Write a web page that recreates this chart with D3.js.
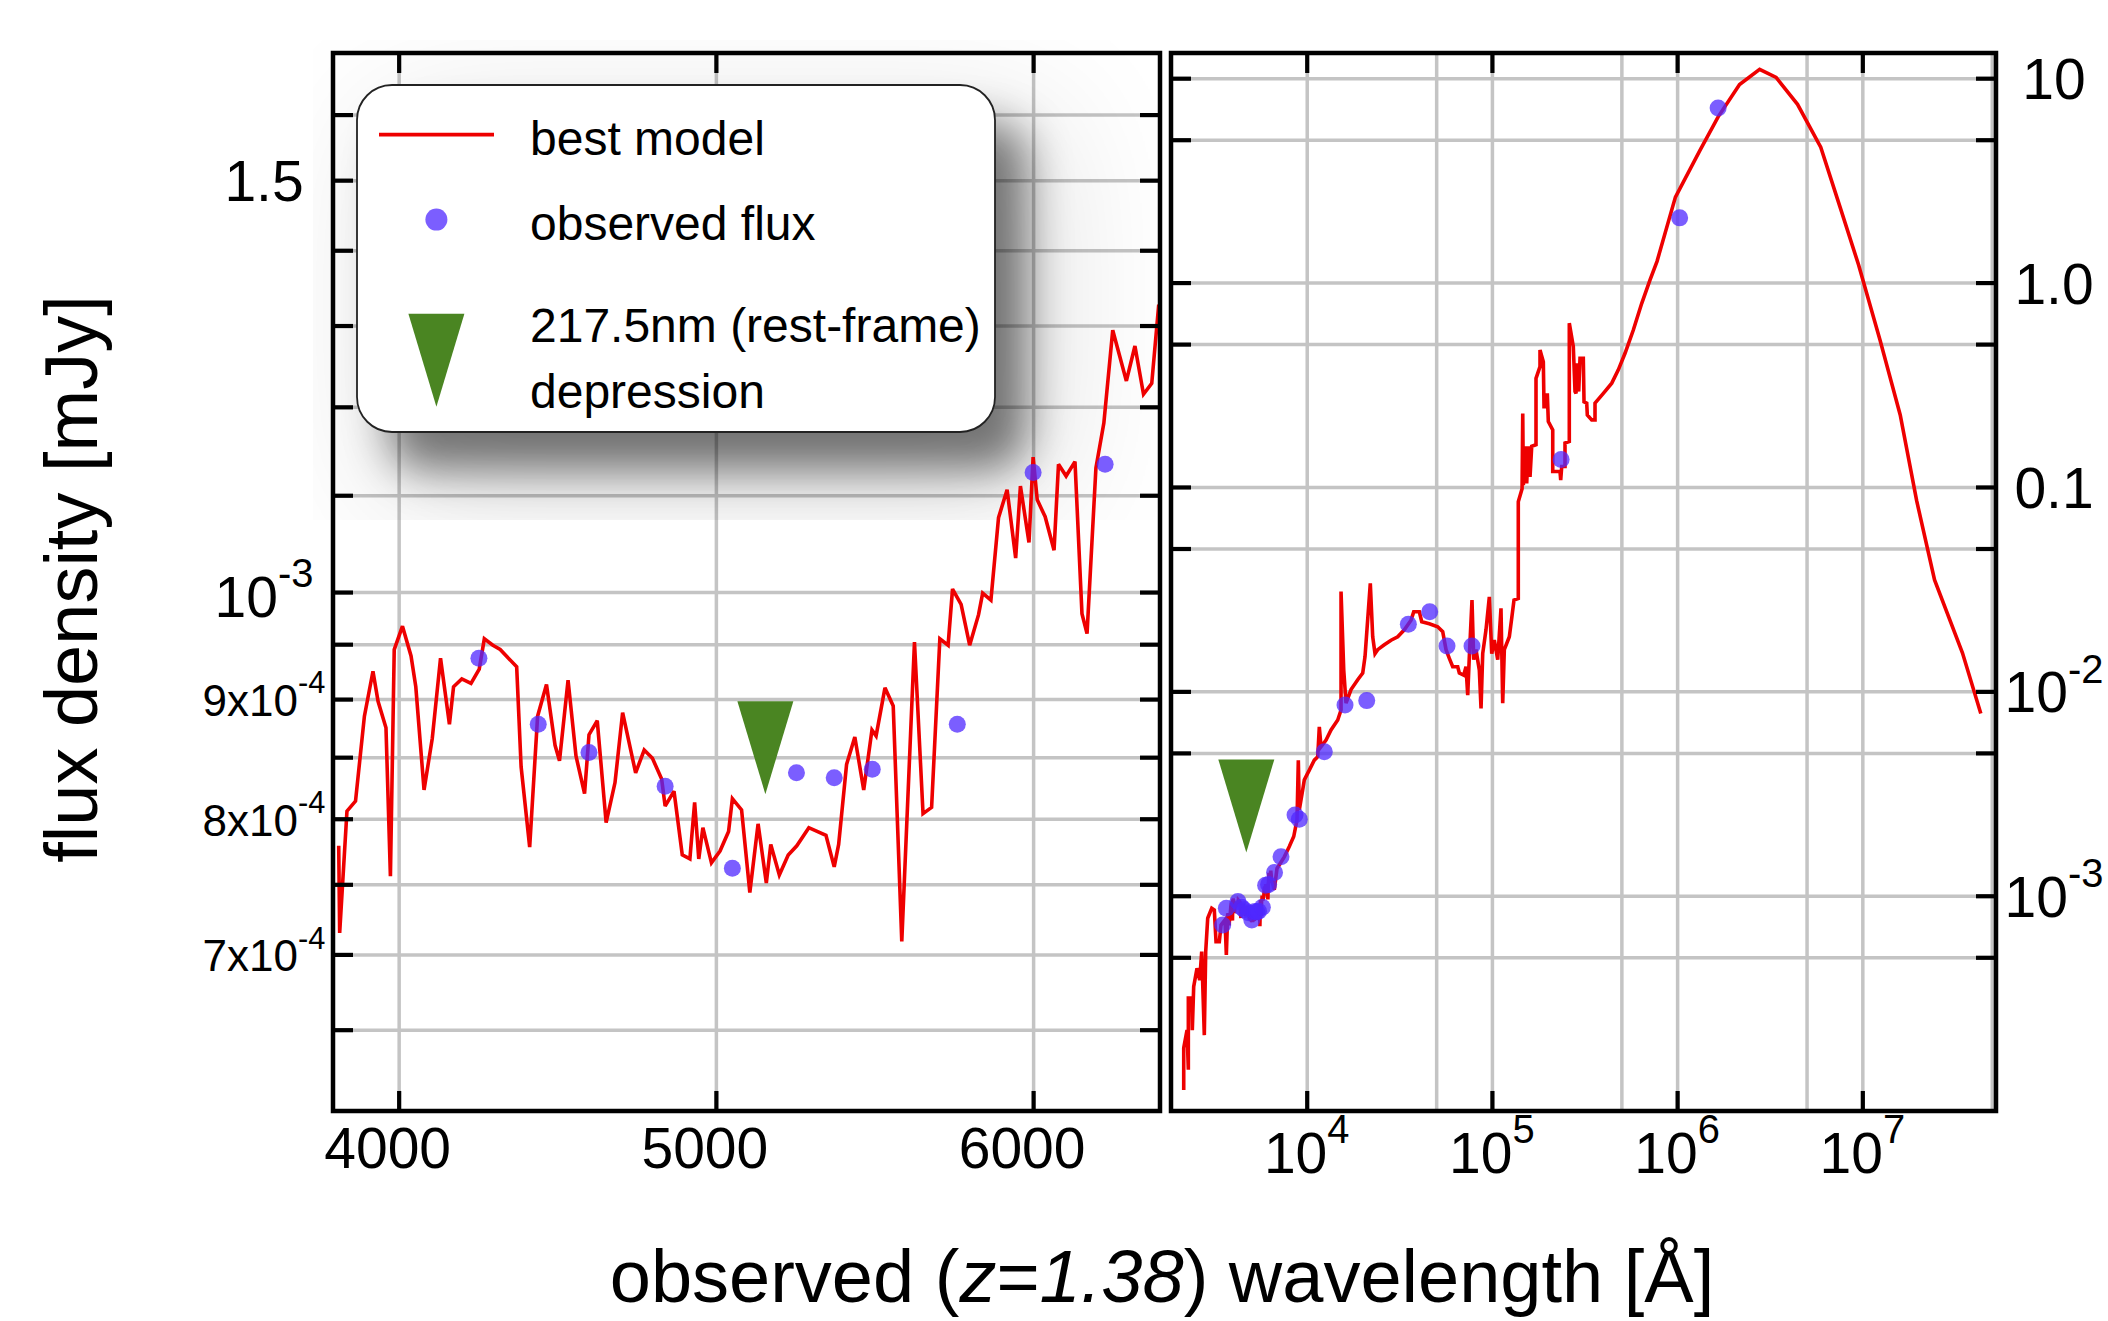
<!DOCTYPE html>
<html>
<head>
<meta charset="utf-8">
<script src="https://cdn.jsdelivr.net/npm/d3@7"></script>
<style>
  body { margin: 0; background: #fff; }
  text { font-family: "Liberation Sans", Arial, sans-serif; fill: #000; }
</style>
</head>
<body>
<svg id="chart" width="2108" height="1321"></svg>
<script>
// --- best model, [wavelength in Angstrom, flux in mJy] ---
const modelUV = [
  [2167, 1.12e-4], [2167, 1.80e-4], [2258, 2.20e-4], [2295, 1.41e-4], [2295, 3.16e-4],
  [2393, 3.16e-4], [2411, 2.20e-4], [2453, 3.59e-4], [2556, 4.42e-4], [2643, 3.87e-4],
  [2710, 5.33e-4], [2799, 2.08e-4], [2848, 5.33e-4], [2920, 7.76e-4], [3069, 8.69e-4],
  [3170, 8.51e-4], [3238, 5.96e-4], [3373, 5.96e-4], [3446, 7.19e-4], [3622, 7.62e-4],
  [3681, 5.13e-4], [3745, 8.20e-4]
];
const modelOptical = [
  [3811, 7.79e-4], [3814, 7.15e-4], [3837, 8.06e-4], [3864, 8.14e-4], [3892, 8.85e-4],
  [3919, 9.25e-4], [3935, 8.98e-4], [3960, 8.75e-4], [3974, 7.56e-4], [3986, 9.45e-4],
  [4012, 9.67e-4], [4039, 9.39e-4], [4054, 9.11e-4], [4080, 8.23e-4], [4106, 8.66e-4],
  [4132, 9.37e-4], [4160, 8.78e-4], [4173, 9.11e-4], [4199, 9.18e-4], [4228, 9.14e-4],
  [4254, 9.27e-4], [4270, 9.55e-4], [4297, 9.49e-4], [4320, 9.45e-4], [4372, 9.29e-4],
  [4386, 8.42e-4], [4413, 7.78e-4], [4438, 8.85e-4], [4466, 9.13e-4], [4493, 8.60e-4],
  [4507, 8.47e-4], [4534, 9.17e-4], [4559, 8.51e-4], [4586, 8.20e-4], [4600, 8.69e-4],
  [4626, 8.81e-4], [4654, 7.97e-4], [4682, 8.29e-4], [4706, 8.88e-4], [4747, 8.37e-4],
  [4774, 8.56e-4], [4800, 8.49e-4], [4829, 8.32e-4], [4840, 8.10e-4], [4868, 8.22e-4],
  [4894, 7.72e-4], [4918, 7.69e-4], [4933, 8.13e-4], [4946, 7.69e-4], [4959, 7.93e-4],
  [4986, 7.66e-4], [5013, 7.75e-4], [5040, 7.90e-4], [5052, 8.16e-4], [5081, 8.07e-4],
  [5107, 7.44e-4], [5133, 7.96e-4], [5159, 7.51e-4], [5173, 7.80e-4], [5200, 7.57e-4],
  [5228, 7.72e-4], [5255, 7.79e-4], [5293, 7.93e-4], [5347, 7.87e-4], [5373, 7.63e-4],
  [5387, 7.80e-4], [5412, 8.44e-4], [5438, 8.67e-4], [5466, 8.23e-4], [5492, 8.73e-4],
  [5505, 8.68e-4], [5533, 9.10e-4], [5559, 8.94e-4], [5586, 7.09e-4], [5626, 9.52e-4],
  [5653, 8.04e-4], [5680, 8.09e-4], [5706, 9.55e-4], [5732, 9.49e-4], [5746, 1.003e-3],
  [5773, 9.88e-4], [5800, 9.49e-4], [5828, 9.78e-4], [5841, 9.99e-4], [5867, 9.92e-4],
  [5891, 1.076e-3], [5918, 1.106e-3], [5945, 1.034e-3], [5960, 1.110e-3], [5987, 1.050e-3],
  [6000, 1.142e-3], [6013, 1.095e-3], [6038, 1.077e-3], [6066, 1.042e-3], [6080, 1.134e-3],
  [6104, 1.121e-3], [6132, 1.137e-3], [6154, 9.79e-4], [6170, 9.60e-4], [6198, 1.130e-3],
  [6223, 1.181e-3], [6251, 1.294e-3], [6294, 1.231e-3], [6321, 1.274e-3], [6348, 1.215e-3],
  [6374, 1.228e-3], [6396, 1.327e-3]
];
const modelIR = [
  [6471, 1.19e-3], [6683, 1.07e-3], [6912, 1.36e-3], [7568, 1.55e-3], [8054, 1.74e-3],
  [8508, 1.95e-3], [8864, 2.35e-3], [9009, 4.60e-3], [9120, 2.63e-3], [9515, 3.30e-3],
  [9705, 3.69e-3], [10328, 4.12e-3], [10990, 4.61e-3], [11466, 4.79e-3], [11695, 6.71e-3],
  [11946, 5.36e-3], [12716, 5.78e-3], [13528, 6.47e-3], [14706, 7.24e-3], [15321, 8.11e-3],
  [15321, 3.08e-2], [15845, 1.27e-2], [16303, 8.75e-3], [17349, 1.02e-2], [18856, 1.14e-2],
  [20064, 1.23e-2], [20645, 1.48e-2], [22045, 3.38e-2], [22715, 1.85e-2], [23373, 1.53e-2],
  [24172, 1.60e-2], [26242, 1.69e-2], [28524, 1.78e-2], [31004, 1.85e-2], [33651, 2.00e-2],
  [36574, 2.23e-2], [37825, 2.45e-2], [40551, 2.45e-2], [41783, 2.19e-2], [45920, 2.14e-2],
  [50953, 2.07e-2], [54238, 1.96e-2], [56520, 1.60e-2], [58884, 1.45e-2], [61418, 1.32e-2],
  [65361, 1.32e-2], [66686, 1.23e-2], [70438, 1.20e-2], [72444, 1.32e-2], [74012, 9.59e-3],
  [75509, 1.48e-2], [78054, 2.80e-2], [79727, 1.43e-2], [82035, 1.60e-2], [85507, 1.27e-2],
  [87337, 8.26e-3], [89186, 1.53e-2], [92897, 2.00e-2], [96828, 2.90e-2], [99770, 1.53e-2],
  [103039, 1.78e-2], [107470, 1.43e-2], [111945, 2.55e-2], [114344, 8.75e-3], [116681, 1.60e-2],
  [124165, 1.85e-2], [127900, 2.28e-2], [131600, 2.80e-2], [138800, 2.85e-2], [138800, 8.47e-2],
  [145500, 9.80e-2], [146700, 0.229], [147800, 0.102], [150900, 0.158], [154100, 0.104],
  [157200, 0.158], [160600, 0.112], [164000, 0.158], [173000, 0.161], [173000, 0.340],
  [181800, 0.388], [181800, 0.468], [189500, 0.410], [191100, 0.247], [197700, 0.247],
  [199100, 0.287], [201600, 0.209], [213000, 0.190], [213000, 0.119], [233200, 0.119],
  [235200, 0.108], [238200, 0.126], [248100, 0.126], [248100, 0.164], [261700, 0.167],
  [261700, 0.633], [275100, 0.486], [281000, 0.293], [284500, 0.287], [289100, 0.403],
  [294200, 0.293], [299000, 0.426], [311500, 0.426], [314300, 0.261], [325000, 0.257],
  [327400, 0.225], [345800, 0.213], [360300, 0.213], [360300, 0.257], [399600, 0.287],
  [443700, 0.322], [481400, 0.374], [523300, 0.451], [580100, 0.586], [644100, 0.792],
  [714100, 1.03], [779000, 1.27], [979000, 2.62], [1326000, 4.42], [1665000, 6.47],
  [2173000, 9.30], [2790000, 11.05], [3424000, 10.08], [4468000, 7.45], [5963000, 4.60],
  [7606000, 2.32], [9550000, 1.219], [12460000, 0.524], [16020000, 0.225], [19650000, 0.0857],
  [24550000, 0.0351], [34750000, 0.0154], [43630000, 0.00779]
];

// --- observed photometry ---
const obsWave = [3519, 3681, 4253, 4440, 4600, 4840, 5052, 5254, 5373, 5493, 5761, 6000, 6227,
  6700, 7264, 8648, 9120, 12445, 16100, 21090, 35380, 46140, 57220, 78080, 236400, 1032000, 1665000];
const obsFlux = [7.20e-4, 8.69e-4, 9.37e-4, 8.78e-4, 8.54e-4, 8.26e-4, 7.62e-4, 8.37e-4, 8.33e-4,
  8.40e-4, 8.78e-4, 1.125e-3, 1.134e-3, 1.30e-3, 1.553e-3, 2.485e-3, 2.367e-3, 5.07e-3, 8.58e-3,
  9.01e-3, 2.129e-2, 2.455e-2, 1.668e-2, 1.668e-2, 0.1361, 2.073, 7.155];

// 217.5nm depression markers [wavelength, flux]
const bumpLeft = [5156, 8.58e-4];
const bumpRight = [4719, 2.75e-3];

// ticks
const leftXTicks = [4000, 5000, 6000];
const leftYTicks = [6.5e-4, 7e-4, 7.5e-4, 8e-4, 8.5e-4, 9e-4, 9.5e-4, 1e-3,
  1.1e-3, 1.2e-3, 1.3e-3, 1.4e-3, 1.5e-3, 1.6e-3];
const leftYLabels = [[1.5e-3, "1.5", ""], [1e-3, "10", "-3"], [9e-4, "9x10", "-4"],
  [8e-4, "8x10", "-4"], [7e-4, "7x10", "-4"]];
const rightXTicks = [1e4, 1e5, 1e6, 1e7];
const rightXGrid = [1e4, 5e4, 1e5, 5e5, 1e6, 5e6, 1e7, 5e7];
const rightXLabels = [[1e4, "4"], [1e5, "5"], [1e6, "6"], [1e7, "7"]];
const rightYTicks = [5e-4, 1e-3, 5e-3, 1e-2, 5e-2, 0.1, 0.5, 1, 5, 10];
const rightYLabels = [[10, "10", ""], [1, "1.0", ""], [0.1, "0.1", ""], [0.01, "10", "-2"], [0.001, "10", "-3"]];

const RED = "#ee0000", PURPLE = "#4f28ff", GREEN = "#4a8522", GRID = "#c4c4c4";

const svg = d3.select("#chart");
const defs = svg.append("defs");

const PL = {x0: 333, x1: 1160, y0: 53, y1: 1111};
const PR = {x0: 1171, x1: 1996, y0: 53, y1: 1111};

const xL = d3.scaleLinear().domain([3793, 6400]).range([PL.x0, PL.x1]);
const yL = d3.scaleLog().domain([6.0e-4, 1.70e-3]).range([PL.y1, PL.y0]);
const xR = d3.scaleLog().domain([1850, 5.27e7]).range([PR.x0, PR.x1]);
const yR = d3.scaleLog().domain([8.85e-5, 13.28]).range([PR.y1, PR.y0]);

const model = modelUV.concat(modelOptical, modelIR);
const observed = obsWave.map((w, i) => [w, obsFlux[i]]);

// clip paths + blurs for the legend shadow
[["clipL", PL], ["clipR", PR]].forEach(([id, p]) => {
  defs.append("clipPath").attr("id", id).append("rect")
    .attr("x", p.x0).attr("y", p.y0).attr("width", p.x1 - p.x0).attr("height", p.y1 - p.y0);
});
defs.append("clipPath").attr("id", "clipShadow").append("rect")
  .attr("x", 313).attr("y", 40).attr("width", 847).attr("height", 480);
[["blur", 22], ["haze", 70]].forEach(([id, sd]) => {
  defs.append("filter").attr("id", id)
    .attr("x", "-50%").attr("y", "-50%").attr("width", "200%").attr("height", "200%")
    .append("feGaussianBlur").attr("stdDeviation", sd);
});

// --- grid ---
function grid(p, x, y, xVals, yVals) {
  const g = svg.append("g");
  g.append("g").attr("transform", `translate(0,${p.y1})`)
    .call(d3.axisBottom(x).tickValues(xVals).tickSize(-(p.y1 - p.y0)).tickFormat(""));
  g.append("g").attr("transform", `translate(${p.x0},0)`)
    .call(d3.axisLeft(y).tickValues(yVals).tickSize(-(p.x1 - p.x0)).tickFormat(""));
  g.selectAll(".domain").remove();
  g.selectAll(".tick line").attr("stroke", GRID).attr("stroke-width", 3.5);
}
grid(PL, xL, yL, leftXTicks, leftYTicks);
grid(PR, xR, yR, rightXGrid, rightYTicks);

// --- legend shadow (under the data) ---
const LEG = {x: 357, y: 85, w: 638, h: 347, r: 35};
const shadow = svg.append("g").attr("clip-path", "url(#clipShadow)");
shadow.append("rect")
  .attr("x", LEG.x + 20).attr("y", LEG.y + 30)
  .attr("width", LEG.w + 40).attr("height", LEG.h + 40)
  .attr("fill", "#000").attr("opacity", 0.12).attr("filter", "url(#haze)");
shadow.append("rect")
  .attr("x", LEG.x + 32).attr("y", LEG.y + 38)
  .attr("width", LEG.w).attr("height", LEG.h).attr("rx", LEG.r)
  .attr("fill", "#000").attr("opacity", 0.5).attr("filter", "url(#blur)");

// --- data ---
function triangle(cx, cy) {
  return `M${cx - 28},${cy - 46.5}L${cx + 28},${cy - 46.5}L${cx},${cy + 46.5}Z`;
}
function drawData(clip, x, y, lineData, pts, bump) {
  const g = svg.append("g").attr("clip-path", `url(#${clip})`);
  g.append("path")
    .attr("d", d3.line().x(d => x(d[0])).y(d => y(d[1]))(lineData))
    .attr("fill", "none").attr("stroke", RED).attr("stroke-width", 3.6)
    .attr("stroke-linejoin", "miter").attr("stroke-miterlimit", 3);
  g.selectAll("circle").data(pts).join("circle")
    .attr("cx", d => x(d[0])).attr("cy", d => y(d[1])).attr("r", 8.5)
    .attr("fill", PURPLE).attr("fill-opacity", 0.75);
  g.append("path").attr("d", triangle(x(bump[0]), y(bump[1]))).attr("fill", GREEN);
}
const [lo, hi] = xL.domain();
drawData("clipL", xL, yL, model.filter(d => d[0] >= lo && d[0] < hi + 100),
  observed.filter(d => d[0] >= lo && d[0] <= hi), bumpLeft);
drawData("clipR", xR, yR, model, observed, bumpRight);

// --- frames + inward ticks ---
function frame(p, x, y, xVals, yVals) {
  const g = svg.append("g");
  const add = (axis, tx, ty) => g.append("g").attr("transform", `translate(${tx},${ty})`).call(axis);
  add(d3.axisBottom(x).tickValues(xVals).tickSize(-20).tickFormat(""), 0, p.y1);
  add(d3.axisTop(x).tickValues(xVals).tickSize(-20).tickFormat(""), 0, p.y0);
  add(d3.axisLeft(y).tickValues(yVals).tickSize(-20).tickFormat(""), p.x0, 0);
  add(d3.axisRight(y).tickValues(yVals).tickSize(-20).tickFormat(""), p.x1, 0);
  g.selectAll(".domain").remove();
  g.selectAll(".tick line").attr("stroke", "#000").attr("stroke-width", 4.2);
  g.append("rect").attr("x", p.x0).attr("y", p.y0)
    .attr("width", p.x1 - p.x0).attr("height", p.y1 - p.y0)
    .attr("fill", "none").attr("stroke", "#000").attr("stroke-width", 4.5);
}
frame(PL, xL, yL, leftXTicks, leftYTicks);
frame(PR, xR, yR, rightXTicks, rightYTicks);

// --- tick labels ---
function supLabel(g, x, y, main, sup, size, anchor) {
  const t = g.append("text").attr("x", x).attr("y", y)
    .attr("text-anchor", anchor).attr("font-size", size);
  t.append("tspan").text(main);
  if (sup) t.append("tspan").attr("dy", -0.52 * size).attr("font-size", 0.7 * size).text(sup);
  return t;
}
const labels = svg.append("g");
leftYLabels.forEach(([v, m, s]) => {
  const major = v >= 1e-3;
  const size = major ? 57 : 44;
  const off = v === 1e-3 ? 25 : (major ? 21 : 17);
  supLabel(labels, 264, yL(v) + off, m, s, size, "middle");
});
rightYLabels.forEach(([v, m, s]) => {
  supLabel(labels, 2054, yR(v) + 21, m, s, 57, "middle");
});
leftXTicks.forEach(v => {
  supLabel(labels, xL(v) - 11, 1168, String(v), "", 57, "middle");
});
rightXLabels.forEach(([v, s]) => {
  supLabel(labels, xR(v), 1173, "10", s, 57, "middle");
});

// --- axis titles ---
const xt = svg.append("text").attr("x", 1162).attr("y", 1302)
  .attr("text-anchor", "middle").attr("font-size", 74);
xt.append("tspan").text("observed (");
xt.append("tspan").attr("font-style", "italic").text("z");
xt.append("tspan").text("=");
xt.append("tspan").attr("font-style", "italic").text("1.38");
xt.append("tspan").text(") wavelength [Å]");

svg.append("text").attr("transform", "translate(97,579) rotate(-90)")
  .attr("text-anchor", "middle").attr("font-size", 74)
  .text("flux density [mJy]");

// --- legend ---
const leg = svg.append("g");
leg.append("rect").attr("x", LEG.x).attr("y", LEG.y)
  .attr("width", LEG.w).attr("height", LEG.h).attr("rx", LEG.r)
  .attr("fill", "#fff").attr("stroke", "#222").attr("stroke-width", 1.8);
leg.append("line").attr("x1", 379).attr("x2", 494).attr("y1", 134.6).attr("y2", 134.6)
  .attr("stroke", RED).attr("stroke-width", 3.6);
leg.append("circle").attr("cx", 436.4).attr("cy", 219.6).attr("r", 11)
  .attr("fill", PURPLE).attr("fill-opacity", 0.75);
leg.append("path").attr("d", triangle(436.4, 360.2)).attr("fill", GREEN);
[["best model", 155], ["observed flux", 240], ["217.5nm (rest-frame)", 342], ["depression", 408]]
  .forEach(([t, y]) => {
    leg.append("text").attr("x", 530).attr("y", y).attr("font-size", 48).text(t);
  });
</script>
</body>
</html>
